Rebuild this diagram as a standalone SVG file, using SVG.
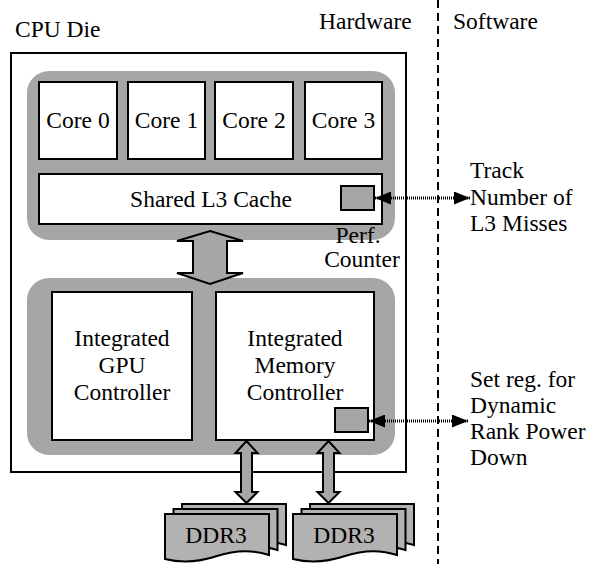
<svg xmlns="http://www.w3.org/2000/svg" width="589" height="564" viewBox="0 0 589 564">
<style>
text{font-family:'Liberation Serif','Times New Roman',serif;font-size:23.5px;fill:#000}
.m{text-anchor:middle}
.box{fill:#fff;stroke:#000;stroke-width:2}
.band{fill:#a6a6a6}
.g{fill:#a6a6a6;stroke:#000;stroke-width:2}
.ddr{fill:#b2b2b2;stroke:#000;stroke-width:2}
.dot{stroke:#000;stroke-width:3;stroke-dasharray:1 1;fill:none}
</style>
<defs>
<marker id="ah" viewBox="0 0 16 13" refX="16" refY="6.5" markerWidth="16" markerHeight="13" markerUnits="userSpaceOnUse" orient="auto-start-reverse">
<path d="M0,0 L16,6.5 L0,13 Z" fill="#000"/>
</marker>
<path id="doc" d="M0,0 H104 V41 C86,35 70,36 52,42 C34,48 16,49 0,45 Z"/>
</defs>
<line x1="438" y1="0" x2="438" y2="564" stroke="#000" stroke-width="2" stroke-dasharray="8 5"/>
<text x="15" y="37">CPU Die</text>
<text x="319" y="29">Hardware</text>
<text x="453" y="29">Software</text>
<g id="cpu-die"><rect class="box" x="11" y="53" width="395" height="419"/></g>
<g id="top-cluster"><rect class="band" x="27" y="71" width="368" height="169" rx="22"/></g>
<g id="core0"><rect class="box" x="39" y="82" width="78" height="77"/><text class="m" x="78" y="128">Core 0</text></g>
<g id="core1"><rect class="box" x="128" y="82" width="77" height="77"/><text class="m" x="166.5" y="128">Core 1</text></g>
<g id="core2"><rect class="box" x="215" y="82" width="78" height="77"/><text class="m" x="254" y="128">Core 2</text></g>
<g id="core3"><rect class="box" x="305" y="82" width="77" height="77"/><text class="m" x="343.5" y="128">Core 3</text></g>
<g id="l3"><rect class="box" x="39" y="174" width="343" height="50"/><text class="m" x="211" y="207">Shared L3 Cache</text></g>
<g id="perf-counter"><rect class="g" x="341" y="186" width="33" height="24"/><text class="m" x="358" y="243">Perf.</text><text class="m" x="362" y="267">Counter</text></g>
<g id="bottom-cluster"><rect class="band" x="27" y="278" width="368" height="177" rx="22"/></g>
<g id="gpu"><rect class="box" x="52" y="292" width="140" height="148"/><text class="m" x="122" y="346">Integrated</text><text class="m" x="122" y="373">GPU</text><text class="m" x="122" y="400">Controller</text></g>
<g id="imc"><rect class="box" x="216" y="292" width="158" height="148"/><text class="m" x="295" y="346">Integrated</text><text class="m" x="295" y="373">Memory</text><text class="m" x="295" y="400">Controller</text></g>
<g id="reg"><rect class="g" x="335" y="408" width="33" height="24"/></g>
<g id="ddr3-a">
<use href="#doc" class="ddr" x="182" y="504"/>
<use href="#doc" class="ddr" x="173.5" y="509"/>
<use href="#doc" class="ddr" x="165" y="514"/>
<text class="m" x="216" y="543">DDR3</text>
</g>
<g id="ddr3-b">
<use href="#doc" class="ddr" x="310" y="504"/>
<use href="#doc" class="ddr" x="301.5" y="509"/>
<use href="#doc" class="ddr" x="293" y="514"/>
<text class="m" x="344" y="543">DDR3</text>
</g>
<g id="connectors">
<polygon class="g" points="210,231 243,241 227,241 227,273 243,273 210,284 177,273 193,273 193,241 177,241"/>
<polygon class="g" points="246.5,441 257.5,453 252,453 252,492 257.5,492 246.5,503 235.5,492 241,492 241,453 235.5,453"/>
<polygon class="g" points="328.5,441 339.5,453 334,453 334,492 339.5,492 328.5,503 317.5,492 323,492 323,453 317.5,453"/>
<line class="dot" x1="375" y1="198" x2="470" y2="198" marker-start="url(#ah)" marker-end="url(#ah)"/>
<line class="dot" x1="369" y1="421" x2="468" y2="421" marker-start="url(#ah)" marker-end="url(#ah)"/>
</g>
<text x="470" y="178">Track</text>
<text x="470" y="205">Number of</text>
<text x="470" y="231">L3 Misses</text>
<text x="470" y="387">Set reg. for</text>
<text x="470" y="413">Dynamic</text>
<text x="470" y="439">Rank Power</text>
<text x="470" y="465">Down</text>
</svg>
